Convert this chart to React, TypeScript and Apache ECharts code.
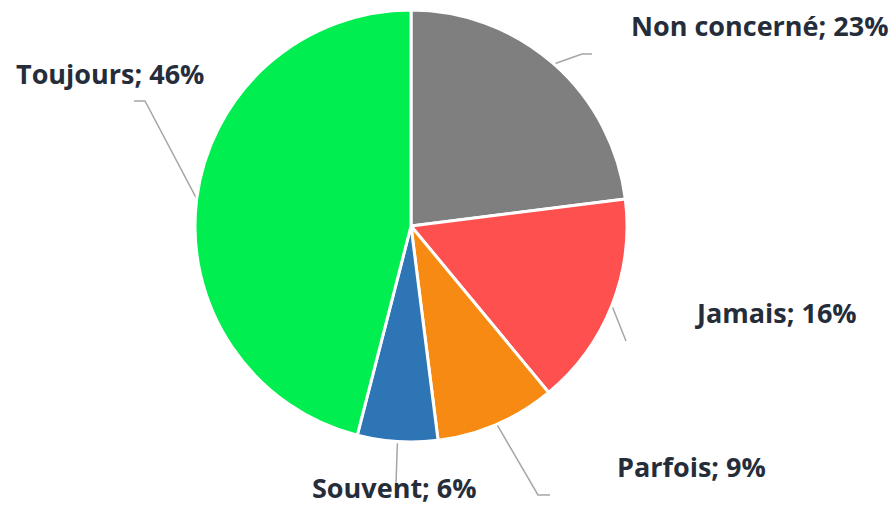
import React, { useEffect, useRef } from "react";
import * as echarts from "echarts";

const categories = ["Non concerné", "Jamais", "Parfois", "Souvent", "Toujours"];
const values = [23, 16, 9, 6, 46];
const colors = ["#7f7f7f", "#ff5050", "#f68a12", "#2e75b6", "#00ee4f"];

// label layout (positions of label text, left x / middle y) and elbow points of leader lines
const labelPos: number[][] = [
  [631, 25],
  [697, 312],
  [617, 466],
  [312, 487],
  [16, 73],
];
const lineTail: number[][][] = [
  [[582, 54], [592, 54]],
  [[626, 341]],
  [[538, 495], [550, 495]],
  [[396, 484]],
  [[145, 101], [134, 101]],
];

export default function App() {
  const ref = useRef<HTMLDivElement>(null);
  useEffect(() => {
    if (!ref.current) return;
    const chart = echarts.init(ref.current, undefined, { renderer: "svg" });
    chart.setOption({
      animation: false,
      series: [
        {
          type: "pie",
          center: [411, 226],
          radius: 216,
          startAngle: 90,
          clockwise: true,
          avoidLabelOverlap: false,
          itemStyle: { borderColor: "#ffffff", borderWidth: 3 },
          data: categories.map((c, i) => ({
            name: c,
            value: values[i],
            itemStyle: { color: colors[i] },
          })),
          label: {
            show: true,
            formatter: (p: any) => `${p.name}; ${p.value}%`,
            fontFamily: "Open Sans",
            fontWeight: "bold",
            fontSize: 27,
            lineHeight: 26,
            color: "#262d3a",
            align: "left",
            verticalAlign: "middle",
          },
          labelLine: {
            show: true,
            lineStyle: { color: "#a6a6a6", width: 1.5 },
          },
          labelLayout: (params: any) => {
            const i = params.dataIndex;
            const start = params.labelLinePoints ? params.labelLinePoints[0] : null;
            const pts = start ? [start, ...lineTail[i]] : lineTail[i];
            return {
              x: labelPos[i][0],
              y: labelPos[i][1],
              align: "left",
              verticalAlign: "middle",
              labelLinePoints: pts,
            };
          },
        },
      ],
    });
    return () => chart.dispose();
  }, []);
  return (
    <div
      ref={ref}
      style={{ position: "absolute", left: 0, top: 0, width: 894, height: 507, background: "#ffffff" }}
    />
  );
}
